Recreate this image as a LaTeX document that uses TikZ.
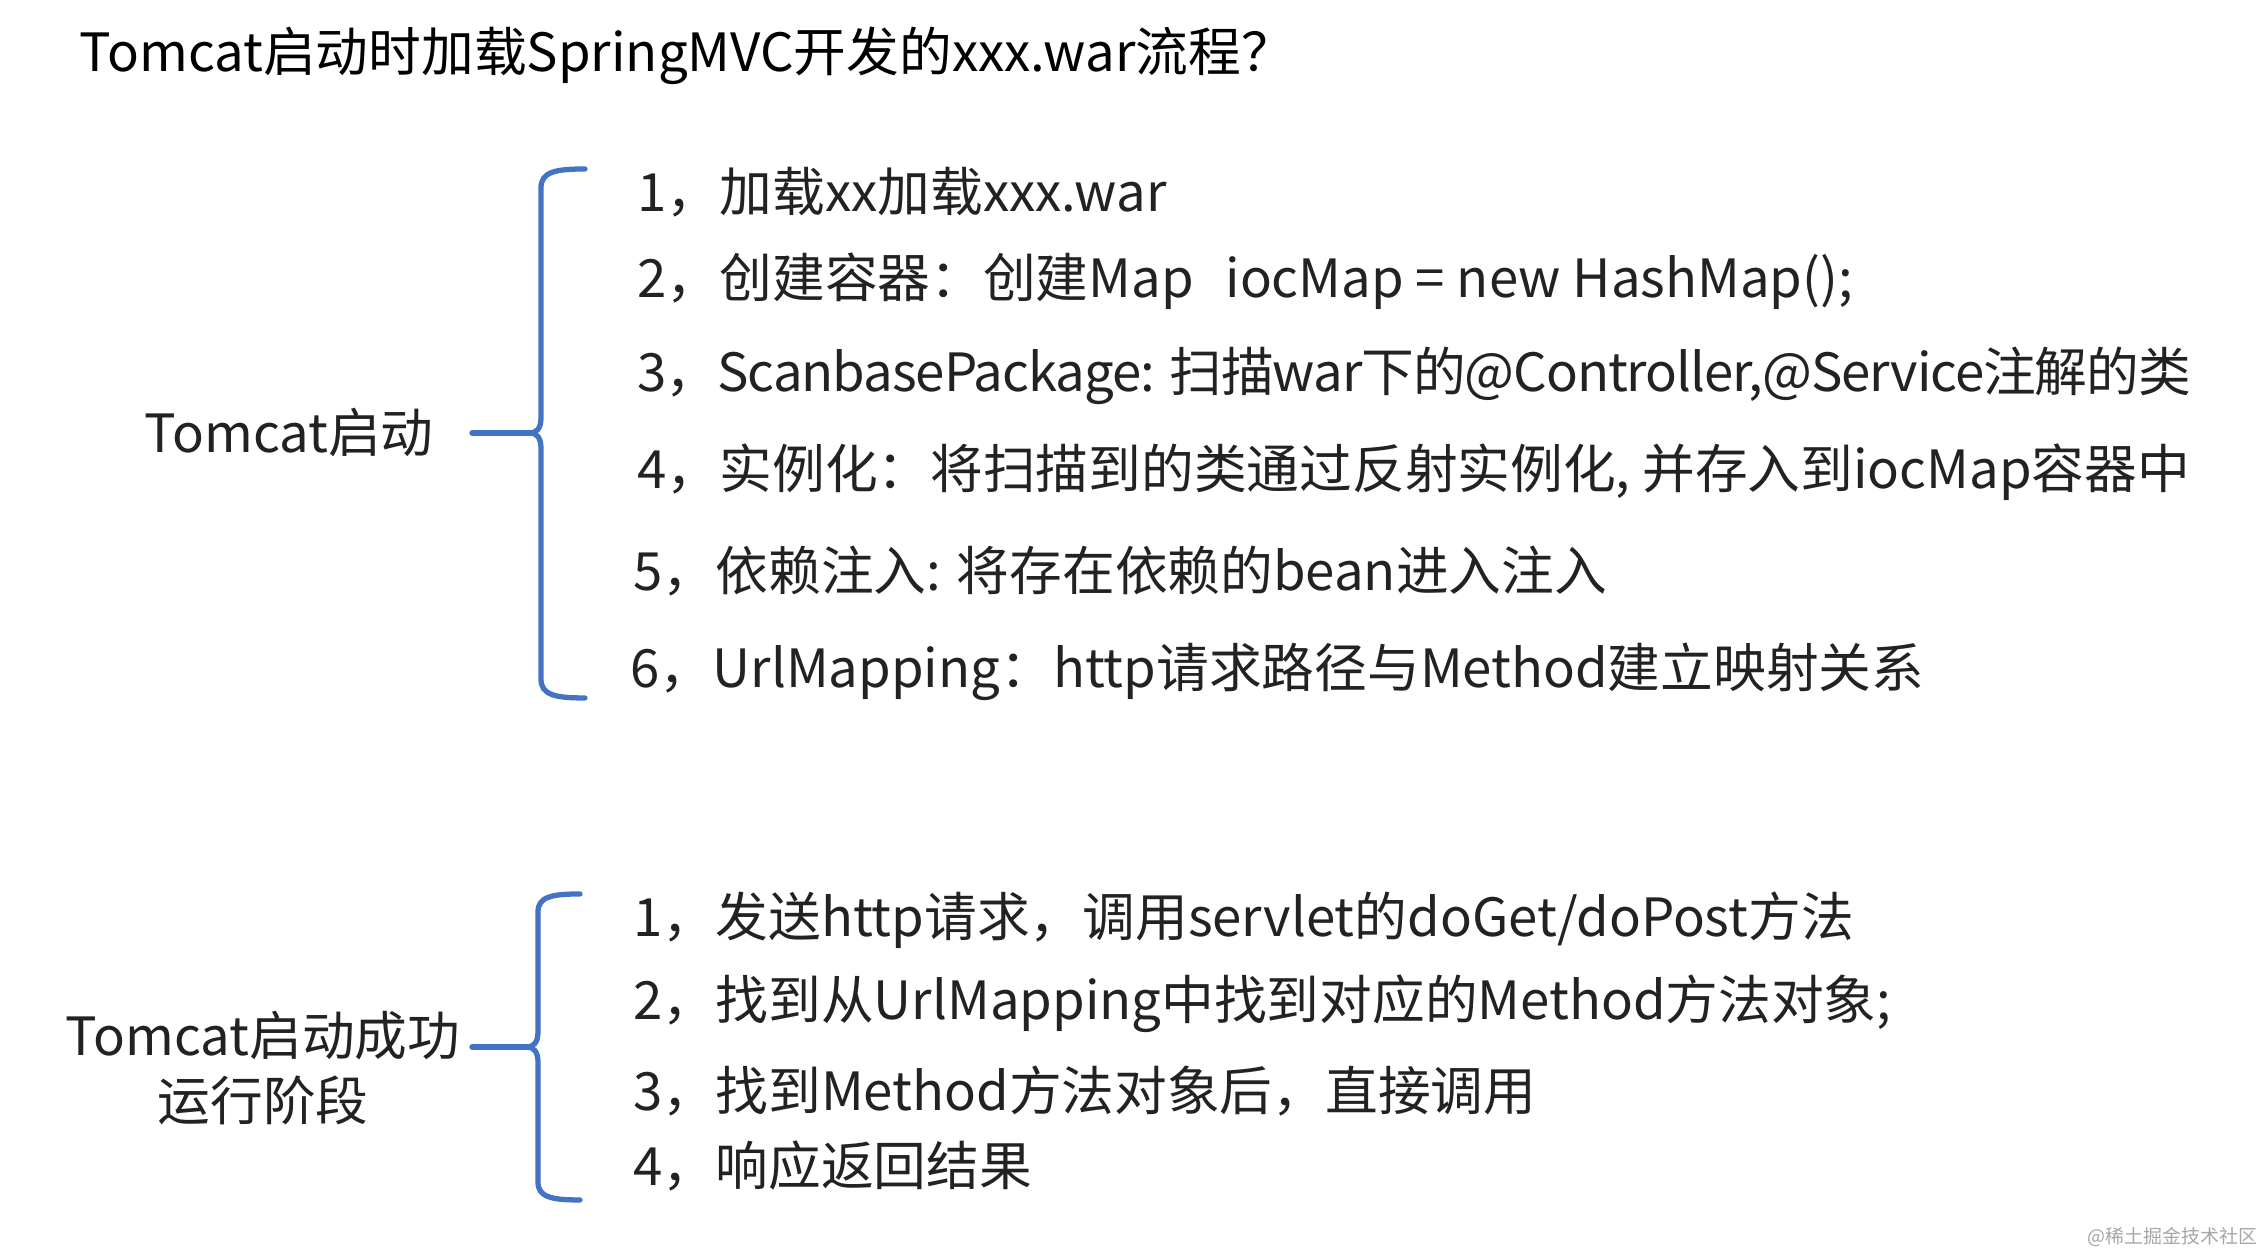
\documentclass[tikz,border=0pt]{standalone}
\usepackage{fontspec}
\newfontfamily\cjk{Noto Sans CJK SC}
\definecolor{braceblue}{HTML}{4472C4}
\definecolor{inkgray}{HTML}{222222}

\begin{document}
\begin{tikzpicture}[
  x=1cm,
  y=1cm,
  title/.style={
    font=\cjk\fontsize{15pt}{18pt}\selectfont,
    text=black,
    anchor=base west,
    inner sep=0pt
  },
  item/.style={
    font=\cjk\fontsize{15pt}{18pt}\selectfont,
    text=inkgray,
    anchor=base west,
    inner sep=0pt
  },
  phase/.style={
    font=\cjk\fontsize{15pt}{18.5pt}\selectfont,
    text=inkgray,
    align=center,
    inner sep=0pt
  },
  bracket/.style={draw=braceblue, line width=1.5pt, line cap=round},
  watermark/.style={
    font=\cjk\fontsize{5.4pt}{6pt}\selectfont,
    text=gray!70,
    anchor=base east,
    inner sep=0pt
  }
]
\useasboundingbox (0,0) rectangle (22.62,12.54);

% Question on top.
\node[title] (question) at (0.79,11.82) {Tomcat启动时加载SpringMVC开发的xxx.war流程？};

% ---------------------------------------------------------------------------
% Startup phase
% ---------------------------------------------------------------------------
\node[phase, anchor=base] (startup) at (2.89,8.01) {Tomcat启动};

\coordinate (topA) at (5.85,10.85);
\coordinate (midA) at (5.30,8.21);
\coordinate (botA) at (5.85,5.56);
\coordinate (stemA) at (4.72,8.21);

\draw[bracket] (topA) .. controls (5.55,10.85) and (5.41,10.82) .. (5.41,10.66)
  -- (5.41,8.36) .. controls (5.41,8.25) and (5.36,8.21) .. (midA)
  .. controls (5.36,8.21) and (5.41,8.17) .. (5.41,8.06)
  -- (5.41,5.75) .. controls (5.41,5.59) and (5.55,5.56) .. (botA);
\draw[bracket] (stemA) -- (midA);

\node[item] (loadwar) at (6.37,10.42) {1，加载xx加载xxx.war};
\node[item] (container) at (6.37,9.56) {2，创建容器：创建Map\hspace{0.6em}iocMap = new HashMap();};
\node[item] (scan) at (6.37,8.62) {\addfontfeature{LetterSpace=-2}3，ScanbasePackage: 扫描war下的@Controller,@Service注解的类};
\node[item] (instance) at (6.37,7.65) {4，实例化：将扫描到的类通过反射实例化, 并存入到iocMap容器中};
\node[item] (inject) at (6.33,6.63) {5，依赖注入: 将存在依赖的bean进入注入};
\node[item] (mapping) at (6.30,5.66) {6，UrlMapping：http请求路径与Method建立映射关系};

% ---------------------------------------------------------------------------
% Running phase
% ---------------------------------------------------------------------------
\node[phase, anchor=base] (running) at (2.63,1.33) {Tomcat启动成功\\运行阶段};

\coordinate (topB) at (5.80,3.60);
\coordinate (midB) at (5.27,2.07);
\coordinate (botB) at (5.80,0.54);
\coordinate (stemB) at (4.72,2.07);

\draw[bracket] (topB) .. controls (5.51,3.60) and (5.38,3.57) .. (5.38,3.42)
  -- (5.38,2.22) .. controls (5.38,2.11) and (5.33,2.07) .. (midB)
  .. controls (5.33,2.07) and (5.38,2.03) .. (5.38,1.92)
  -- (5.38,0.72) .. controls (5.38,0.57) and (5.51,0.54) .. (botB);
\draw[bracket] (stemB) -- (midB);

\node[item] (request) at (6.33,3.17) {1，发送http请求，调用servlet的doGet/doPost方法};
\node[item] (lookup) at (6.33,2.34) {2，找到从UrlMapping中找到对应的Method方法对象;};
\node[item] (invoke) at (6.33,1.43) {3，找到Method方法对象后，直接调用};
\node[item] (respond) at (6.33,0.68) {4，响应返回结果};

% Site mark.
\node[watermark] (site) at (22.58,0.10) {@稀土掘金技术社区};

\end{tikzpicture}
\end{document}
